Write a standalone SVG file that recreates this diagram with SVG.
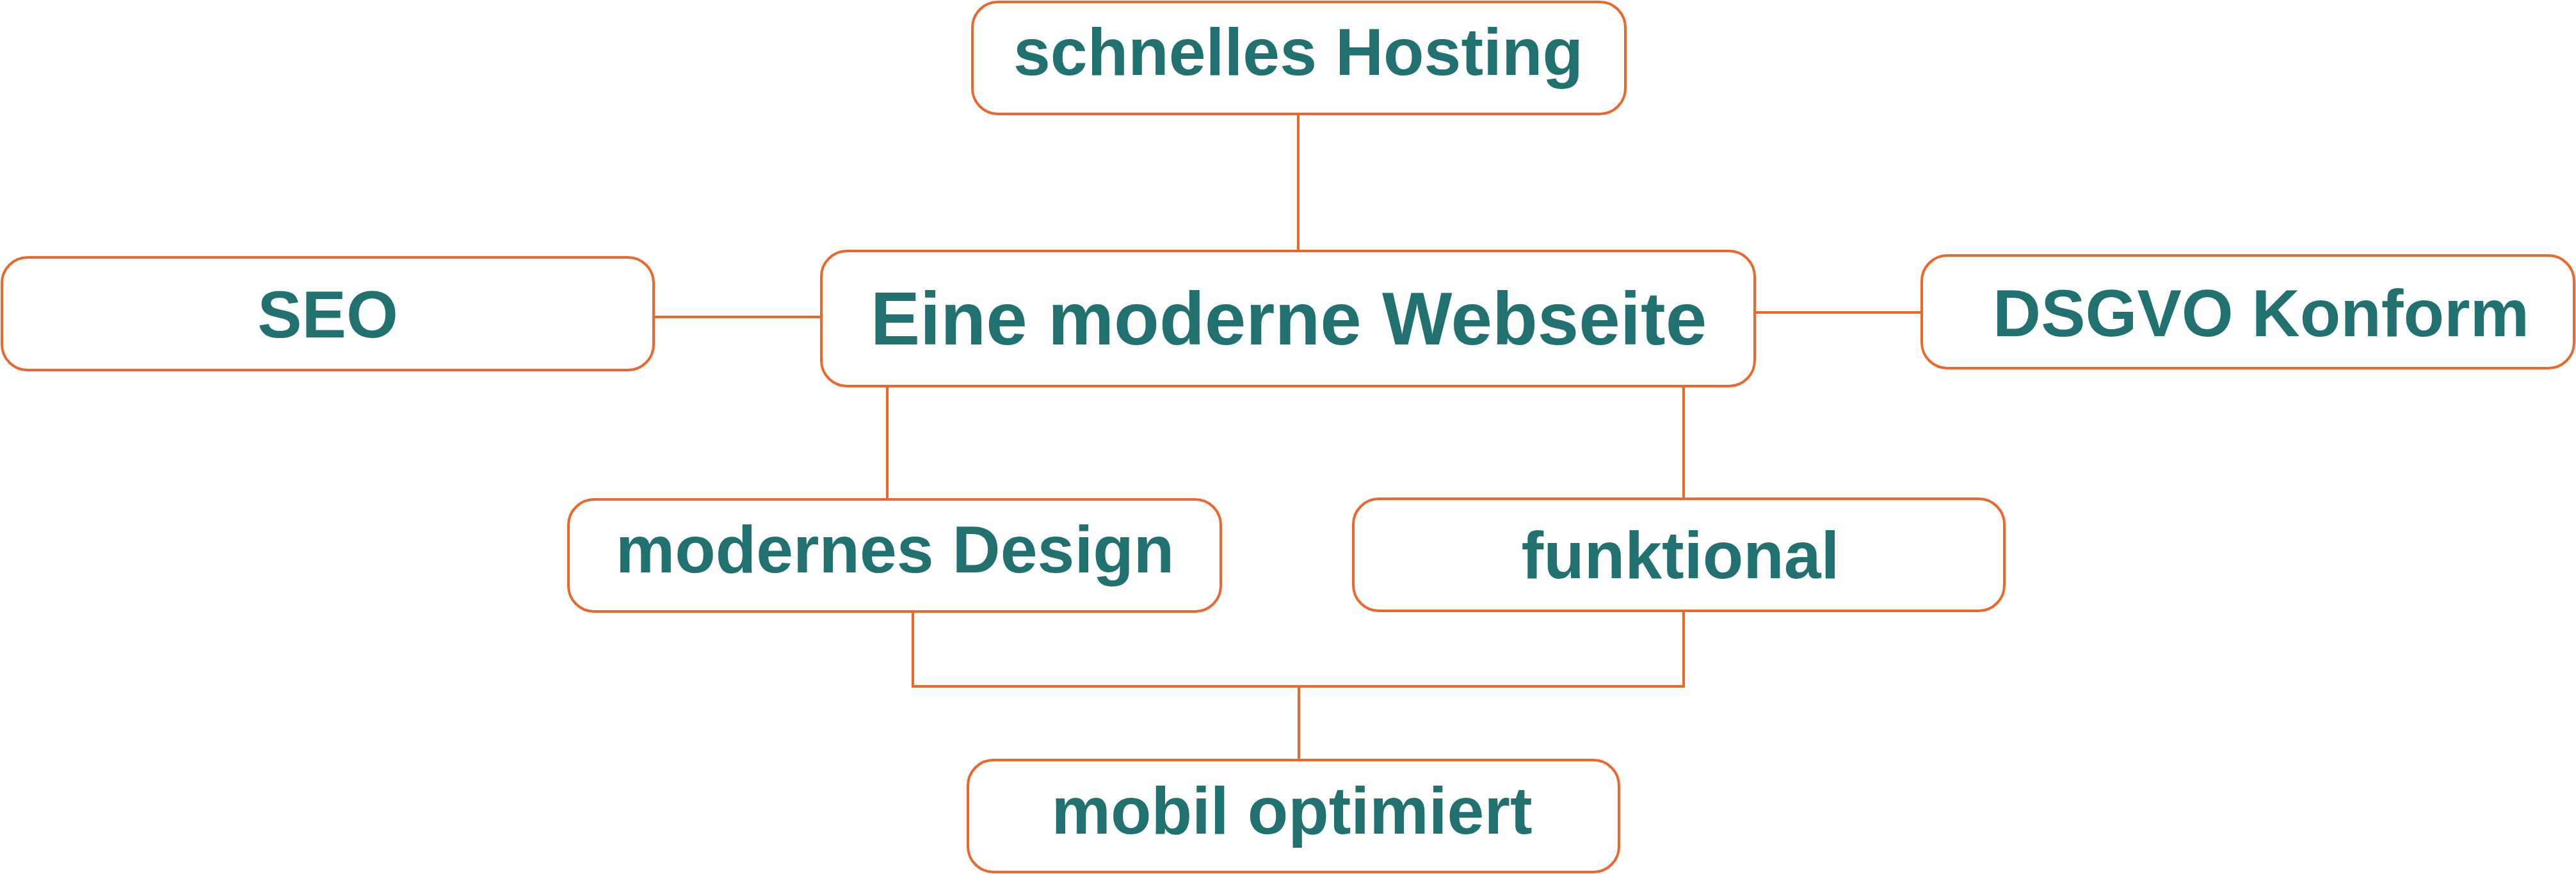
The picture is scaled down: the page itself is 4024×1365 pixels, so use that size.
<svg xmlns="http://www.w3.org/2000/svg" width="4024" height="1365" viewBox="0 0 4024 1365">
<style>
.box{fill:#fff;stroke:#ED672B;stroke-width:4}
.lbl{font-family:"Liberation Sans",Arial,sans-serif;font-weight:bold;font-size:104px;fill:#207170;text-anchor:middle}
.big{font-size:116px}
.con{fill:none;stroke:#ED672B;stroke-width:4}
</style>
<rect width="4024" height="1365" fill="#fff"/>
<g id="connectors">
<path class="con" d="M2028 178V392"/>
<path class="con" d="M1021 495H1283"/>
<path class="con" d="M2741 488H3002"/>
<path class="con" d="M1386 603V780"/>
<path class="con" d="M2630 603V779"/>
<path class="con" d="M1426 955V1072H2630V954"/>
<path class="con" d="M2029 1072V1187"/>
</g>
<g id="hosting"><rect class="box" x="1519" y="3" width="1020" height="175" rx="40"/><text class="lbl" x="2028" y="117">schnelles Hosting</text></g>
<g id="seo"><rect class="box" x="3" y="402" width="1018" height="176" rx="40"/><text class="lbl" x="512" y="527">SEO</text></g>
<g id="center"><rect class="box" x="1283" y="392" width="1458" height="211" rx="40"/><text class="lbl big" x="2013" y="538">Eine moderne Webseite</text></g>
<g id="dsgvo"><rect class="box" x="3002" y="399" width="1019" height="176" rx="40"/><text class="lbl" x="3532" y="525">DSGVO Konform</text></g>
<g id="design"><rect class="box" x="888" y="780" width="1019" height="175" rx="40"/><text class="lbl" x="1398" y="894">modernes Design</text></g>
<g id="funktional"><rect class="box" x="2114" y="779" width="1017" height="175" rx="40"/><text class="lbl" x="2625" y="903">funktional</text></g>
<g id="mobil"><rect class="box" x="1512" y="1187" width="1017" height="175" rx="40"/><text class="lbl" x="2018" y="1302">mobil optimiert</text></g>
</svg>
